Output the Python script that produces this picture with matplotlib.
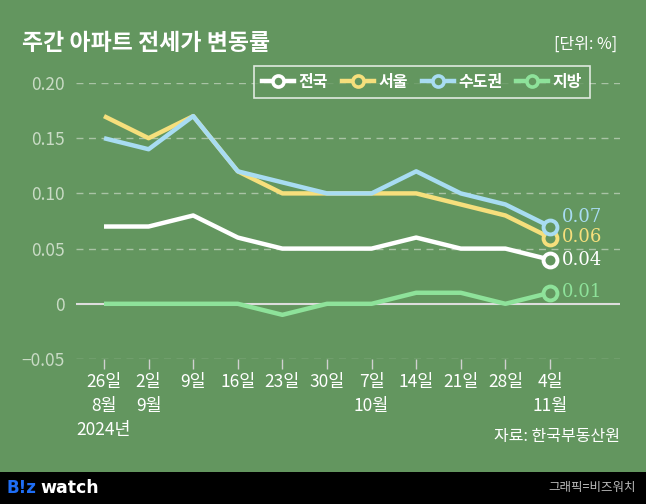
import matplotlib
matplotlib.use("Agg")
import matplotlib.pyplot as plt
from matplotlib.lines import Line2D

plt.rcParams['font.family'] = ['Noto Sans CJK KR', 'DejaVu Sans']

BG = '#63965f'

# data (weekly change, %)
weeks = ['26일\n8월\n2024년', '2일\n9월', '9일', '16일', '23일', '30일',
         '7일\n10월', '14일', '21일', '28일', '4일\n11월']
nation = [0.07, 0.07, 0.08, 0.06, 0.05, 0.05, 0.05, 0.06, 0.05, 0.05, 0.04]
seoul = [0.17, 0.15, 0.17, 0.12, 0.10, 0.10, 0.10, 0.10, 0.09, 0.08, 0.06]
capital = [0.15, 0.14, 0.17, 0.12, 0.11, 0.10, 0.10, 0.12, 0.10, 0.09, 0.07]
local = [0, 0, 0, 0, -0.01, 0, 0, 0.01, 0.01, 0, 0.01]
names = ['전국', '서울', '수도권', '지방']
colors = ['#ffffff', '#f6df7c', '#a8dcf2', '#8ee29a']
yticks = [-0.05, 0, 0.05, 0.10, 0.15, 0.20]
ylabels = ['\u22120.05', '0', '0.05', '0.10', '0.15', '0.20']

fig = plt.figure(figsize=(6.46, 5.04), dpi=100, facecolor=BG)
ax = fig.add_axes([76/646, 1-359/504, 544/646, 276/504])
ax.set_facecolor(BG)

x = list(range(len(weeks)))
# grid
for y in yticks:
    if y == 0:
        ax.axhline(y, color='#dddddd', lw=1.5, zorder=1)
    else:
        ax.axhline(y, color='#a9c3a5', lw=1, ls=(0, (5, 4)), zorder=1)

series = [nation, seoul, capital, local]
for vals, c in zip(series, colors):
    ax.plot(x, vals, color=c, lw=3.2, solid_capstyle='butt', zorder=3)
    ax.plot(x[-1], vals[-1], 'o', ms=10, mfc=BG, mec=c, mew=2.8, zorder=4)

# end labels
ypos = [0.04, 0.0605, 0.079, 0.0105]
for vals, c, yp in zip(series, colors, ypos):
    ax.text(x[-1] + 0.27, yp, f'{vals[-1]:.2f}', color=c, fontsize=13,
            family='DejaVu Serif', va='center', ha='left', zorder=5)

ax.set_xlim(-0.628, 11.57)
ax.set_ylim(-0.05, 0.20)
ax.set_xticks(x)
ax.set_xticklabels(weeks, color='white', fontsize=12.5, linespacing=1.45, va='top')
ax.set_yticks(yticks)
ax.set_yticklabels(ylabels, color='#c9dbc5', fontsize=12.5)
ax.tick_params(axis='x', length=7, width=1, color='#d0d0d0', pad=3)
ax.tick_params(axis='y', length=0, pad=8)
for s in ax.spines.values():
    s.set_visible(False)

# legend
handles = [Line2D([0], [0], color=c, lw=3.2, marker='o', ms=8, mfc=BG, mec=c, mew=2.6)
           for c in colors]
leg = ax.legend(handles, names, loc='upper left', bbox_to_anchor=(254/646, 1-66/504),
                bbox_transform=fig.transFigure, ncol=4, frameon=True, fontsize=11.5,
                handlelength=2.0, handletextpad=0.3, columnspacing=0.85,
                borderpad=0.5, borderaxespad=0, fancybox=False)
leg.get_frame().set_facecolor(BG)
leg.get_frame().set_edgecolor('white')
leg.get_frame().set_linewidth(1.2)
for t in leg.get_texts():
    t.set_color('white')
    t.set_fontweight('bold')

# titles and notes
fig.text(22/646, 1-43/504, '주간 아파트 전세가 변동률', color='white', fontsize=16.5,
         fontweight='heavy', va='center', ha='left')
fig.text(617/646, 1-44/504, '[단위: %]', color='white', fontsize=11.5,
         va='center', ha='right')
fig.text(620/646, 1-437/504, '자료: 한국부동산원', color='white', fontsize=11.5,
         va='center', ha='right')

# bottom bar
fig.patches.append(plt.Rectangle((0, 0), 1, 32/504, transform=fig.transFigure,
                                 facecolor='black', edgecolor='none', zorder=0))
fig.text(7/646, 16/504, 'B!z', color='#1f6ef5', fontsize=12, fontweight='bold',
         family='DejaVu Sans', va='center', ha='left')
fig.text(40/646, 16/504, 'watch', color='white', fontsize=12.5, fontweight='bold',
         family='DejaVu Sans', va='center', ha='left')
fig.text(636/646, 16/504, '그래픽=비즈워치', color='#bbbbbb', fontsize=9,
         va='center', ha='right')

fig.savefig('out.png', dpi=100, facecolor=BG)
